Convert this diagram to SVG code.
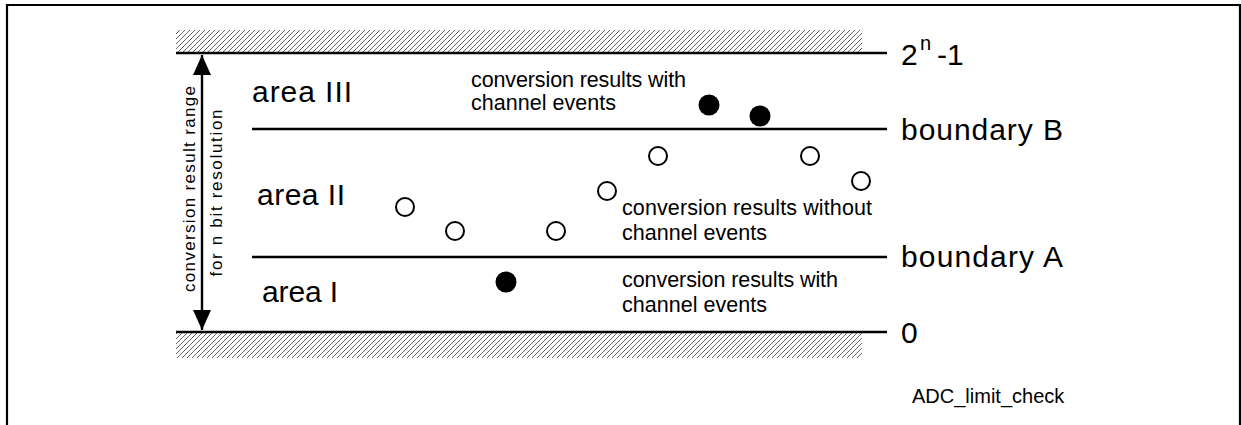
<svg xmlns="http://www.w3.org/2000/svg" width="1241" height="425" viewBox="0 0 1241 425">
<style>
.lv{stroke:#000;stroke-width:2.4;fill:none}
.big{font-family:"Liberation Sans",Arial,sans-serif;font-size:30px;fill:#000}
.sm{font-family:"Liberation Sans",Arial,sans-serif;font-size:21.5px;fill:#000}
.rot{font-family:"Liberation Sans",Arial,sans-serif;font-size:17px;fill:#000}
.open{fill:#fff;stroke:#000;stroke-width:2}
.fill{fill:#000}
</style>
<defs>
<pattern id="hatch" patternUnits="userSpaceOnUse" width="5" height="5">
<path d="M-1,1 L1,-1 M0,5 L5,0 M4,6 L6,4" stroke="#555" stroke-width="0.9"/>
</pattern>
<marker id="ah" viewBox="0 0 20 18" refX="20" refY="9" markerWidth="20" markerHeight="18" markerUnits="userSpaceOnUse" orient="auto-start-reverse">
<path d="M0,0 L20,9 L0,18 Z" fill="#000"/>
</marker>
</defs>
<rect width="1241" height="425" fill="#fff"/>
<g id="frame" fill="none" stroke="#000" stroke-width="2.2">
<path d="M7,425 L7,5 L1240,5 L1240,425"/>
</g>
<g id="hatching">
<rect x="176" y="30" width="686" height="23" fill="url(#hatch)"/>
<rect x="176" y="332" width="686" height="26" fill="url(#hatch)"/>
</g>
<g id="levels">
<line class="lv" x1="176" y1="53" x2="887" y2="53"/>
<line class="lv" x1="252" y1="129" x2="887" y2="129"/>
<line class="lv" x1="252" y1="257" x2="887" y2="257"/>
<line class="lv" x1="176" y1="332" x2="887" y2="332"/>
</g>
<g id="connectors">
<line x1="202" y1="55" x2="202" y2="330" stroke="#000" stroke-width="2.4" marker-start="url(#ah)" marker-end="url(#ah)"/>
</g>
<g id="range-label">
<text class="rot" transform="translate(195,189) rotate(-90)" text-anchor="middle" textLength="206" lengthAdjust="spacing">conversion result range</text>
<text class="rot" transform="translate(222,193) rotate(-90)" text-anchor="middle" textLength="167" lengthAdjust="spacing">for n bit resolution</text>
</g>
<g id="area-III"><text class="big" x="252" y="102" textLength="100" lengthAdjust="spacing">area III</text></g>
<g id="area-II"><text class="big" x="257" y="205" textLength="88" lengthAdjust="spacing">area II</text></g>
<g id="area-I"><text class="big" x="262" y="302" textLength="76" lengthAdjust="spacing">area I</text></g>
<g id="level-max"><text class="big" x="901" y="65">2<tspan x="920" y="50" style="font-size:20px">n</tspan><tspan x="937" y="65">-1</tspan></text></g>
<g id="boundary-B"><text class="big" x="901" y="140" textLength="162" lengthAdjust="spacing">boundary B</text></g>
<g id="boundary-A"><text class="big" x="901" y="267" textLength="162" lengthAdjust="spacing">boundary A</text></g>
<g id="level-zero"><text class="big" x="901" y="343">0</text></g>
<g id="note-top">
<text class="sm" x="471" y="87" textLength="215" lengthAdjust="spacing">conversion results with</text>
<text class="sm" x="471" y="110" textLength="145" lengthAdjust="spacing">channel events</text>
</g>
<g id="note-mid">
<text class="sm" x="622" y="215" textLength="250" lengthAdjust="spacing">conversion results without</text>
<text class="sm" x="622" y="240" textLength="145" lengthAdjust="spacing">channel events</text>
</g>
<g id="note-low">
<text class="sm" x="622" y="287" textLength="216" lengthAdjust="spacing">conversion results with</text>
<text class="sm" x="622" y="312" textLength="145" lengthAdjust="spacing">channel events</text>
</g>
<g id="points">
<circle class="fill" cx="709" cy="105" r="10.5"/>
<circle class="fill" cx="760" cy="116" r="10.5"/>
<circle class="fill" cx="506" cy="282" r="10.5"/>
<circle class="open" cx="405" cy="207" r="9"/>
<circle class="open" cx="455" cy="231" r="9"/>
<circle class="open" cx="556" cy="231" r="9"/>
<circle class="open" cx="607" cy="191" r="9"/>
<circle class="open" cx="658" cy="156" r="9"/>
<circle class="open" cx="810" cy="156" r="9"/>
<circle class="open" cx="861" cy="181" r="9"/>
</g>
<g id="caption"><text class="sm" x="912" y="403" style="font-size:20px">ADC_limit_check</text></g>
</svg>
